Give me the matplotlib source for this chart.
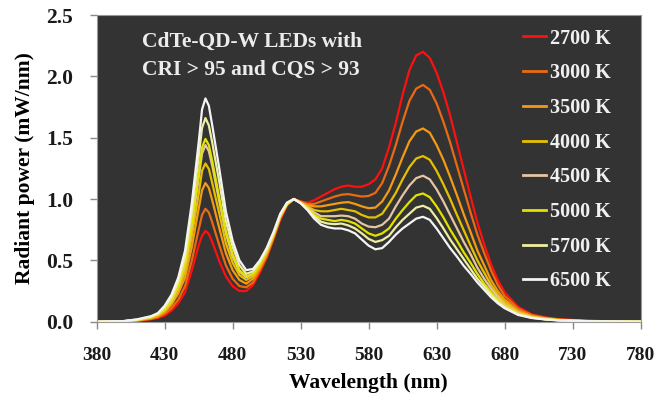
import matplotlib
matplotlib.use("Agg")
import matplotlib.pyplot as plt

plt.rcParams['font.family'] = ['Liberation Serif', 'DejaVu Serif']
plt.rcParams['font.weight'] = 'bold'

# wavelength grid (nm) and spectra (mW/nm)
wl = [380, 400, 410, 420, 425, 430, 435, 440, 445, 450, 455, 457.5, 460, 462.5, 465, 470, 475, 480,
      485, 490, 495, 500, 505, 510, 515, 520, 525, 530, 535, 540, 545, 550, 555, 560,
      565, 570, 575, 580, 585, 590, 595, 600, 605, 610, 615, 620, 625, 630, 635, 640,
      645, 650, 655, 660, 665, 670, 675, 680, 690, 700, 710, 720, 740, 760, 780]

k2700 = [0, 0.002, 0.007, 0.02, 0.03, 0.05, 0.09, 0.15, 0.24, 0.42, 0.62, 0.70, 0.74, 0.715, 0.65, 0.50, 0.37, 0.29,
         0.25, 0.25, 0.30, 0.40, 0.52, 0.67, 0.83, 0.95, 1.0, 0.98, 0.97, 0.99, 1.02, 1.05, 1.08, 1.10,
         1.11, 1.10, 1.10, 1.12, 1.16, 1.25, 1.42, 1.62, 1.85, 2.05, 2.17, 2.20, 2.15, 2.03, 1.87, 1.68,
         1.46, 1.24, 1.02, 0.81, 0.63, 0.47, 0.34, 0.24, 0.12, 0.06, 0.035, 0.02, 0.008, 0.003, 0]
k3000 = [0, 0.003, 0.009, 0.023, 0.037, 0.064, 0.11, 0.18, 0.29, 0.50, 0.75, 0.87, 0.92, 0.89, 0.81, 0.63, 0.46, 0.35,
         0.29, 0.28, 0.32, 0.42, 0.53, 0.68, 0.84, 0.95, 1.0, 0.98, 0.96, 0.96, 0.98, 1.00, 1.02, 1.035,
         1.04, 1.03, 1.02, 1.025, 1.05, 1.13, 1.27, 1.44, 1.63, 1.80, 1.90, 1.93, 1.89, 1.78, 1.63, 1.46,
         1.27, 1.08, 0.89, 0.71, 0.56, 0.42, 0.30, 0.21, 0.107, 0.054, 0.032, 0.018, 0.007, 0.003, 0]
k3500 = [0, 0.003, 0.011, 0.028, 0.045, 0.08, 0.14, 0.23, 0.36, 0.61, 0.92, 1.07, 1.13, 1.09, 0.99, 0.77, 0.56, 0.42,
         0.34, 0.31, 0.35, 0.44, 0.55, 0.69, 0.85, 0.96, 1.0, 0.97, 0.95, 0.94, 0.94, 0.95, 0.96, 0.97,
         0.975, 0.96, 0.94, 0.925, 0.93, 0.98, 1.07, 1.20, 1.34, 1.47, 1.55, 1.575, 1.54, 1.44, 1.32, 1.18,
         1.03, 0.875, 0.73, 0.58, 0.46, 0.34, 0.25, 0.18, 0.09, 0.046, 0.027, 0.015, 0.006, 0.002, 0]
k4000 = [0, 0.004, 0.013, 0.032, 0.052, 0.09, 0.15, 0.26, 0.41, 0.70, 1.04, 1.23, 1.29, 1.245, 1.13, 0.89, 0.64, 0.48,
         0.38, 0.34, 0.37, 0.45, 0.56, 0.70, 0.86, 0.96, 1.0, 0.97, 0.94, 0.91, 0.90, 0.90, 0.91, 0.92,
         0.91, 0.90, 0.87, 0.85, 0.85, 0.88, 0.96, 1.05, 1.16, 1.26, 1.33, 1.35, 1.32, 1.23, 1.12, 1.00,
         0.87, 0.745, 0.62, 0.50, 0.40, 0.30, 0.22, 0.16, 0.079, 0.041, 0.024, 0.014, 0.005, 0.002, 0]
k4500 = [0, 0.004, 0.014, 0.036, 0.058, 0.10, 0.17, 0.29, 0.46, 0.78, 1.17, 1.37, 1.44, 1.39, 1.27, 0.99, 0.72, 0.53,
         0.41, 0.36, 0.39, 0.47, 0.57, 0.71, 0.86, 0.96, 1.0, 0.97, 0.93, 0.89, 0.86, 0.86, 0.86, 0.865,
         0.86, 0.84, 0.80, 0.775, 0.77, 0.79, 0.84, 0.94, 1.03, 1.11, 1.17, 1.19, 1.16, 1.08, 0.98, 0.87,
         0.76, 0.65, 0.55, 0.44, 0.35, 0.27, 0.20, 0.14, 0.071, 0.038, 0.022, 0.012, 0.005, 0.002, 0]
k5000 = [0, 0.004, 0.015, 0.037, 0.06, 0.10, 0.18, 0.30, 0.48, 0.80, 1.21, 1.42, 1.49, 1.44, 1.31, 1.02, 0.74, 0.55,
         0.42, 0.37, 0.39, 0.47, 0.58, 0.71, 0.87, 0.96, 1.0, 0.97, 0.92, 0.87, 0.84, 0.83, 0.82, 0.83,
         0.82, 0.80, 0.76, 0.72, 0.70, 0.72, 0.76, 0.84, 0.91, 0.975, 1.03, 1.045, 1.015, 0.94, 0.85, 0.75,
         0.66, 0.565, 0.48, 0.39, 0.31, 0.24, 0.18, 0.128, 0.064, 0.034, 0.02, 0.011, 0.004, 0.002, 0]
k5700 = [0, 0.005, 0.017, 0.042, 0.066, 0.12, 0.20, 0.33, 0.53, 0.90, 1.34, 1.58, 1.66, 1.60, 1.46, 1.15, 0.82, 0.61,
         0.46, 0.39, 0.41, 0.49, 0.59, 0.72, 0.87, 0.97, 1.0, 0.967, 0.917, 0.857, 0.815, 0.80, 0.795, 0.80,
         0.785, 0.76, 0.72, 0.675, 0.65, 0.665, 0.70, 0.77, 0.83, 0.88, 0.93, 0.945, 0.92, 0.845, 0.76, 0.67,
         0.59, 0.51, 0.43, 0.35, 0.285, 0.22, 0.163, 0.119, 0.059, 0.032, 0.019, 0.011, 0.004, 0.002, 0]
k6500 = [0, 0.005, 0.02, 0.045, 0.07, 0.13, 0.22, 0.36, 0.58, 0.97, 1.46, 1.73, 1.82, 1.76, 1.60, 1.26, 0.90, 0.66,
         0.50, 0.42, 0.43, 0.50, 0.60, 0.73, 0.88, 0.97, 1.0, 0.965, 0.91, 0.84, 0.79, 0.77, 0.76, 0.76,
         0.745, 0.72, 0.67, 0.62, 0.59, 0.60, 0.65, 0.71, 0.76, 0.80, 0.84, 0.855, 0.83, 0.76, 0.68, 0.60,
         0.53, 0.455, 0.39, 0.32, 0.26, 0.20, 0.15, 0.11, 0.055, 0.03, 0.018, 0.01, 0.004, 0.002, 0]

labels = ["2700 K", "3000 K", "3500 K", "4000 K", "4500 K", "5000 K", "5700 K", "6500 K"]
spectra = [k2700, k3000, k3500, k4000, k4500, k5000, k5700, k6500]
colors = ["#ff1010", "#ea6a12", "#f49a14", "#e6c000", "#e6c6a0", "#e2e200", "#eeeea2", "#f4f4f4"]

xticks = [380, 430, 480, 530, 580, 630, 680, 730, 780]
yticks = [0.0, 0.5, 1.0, 1.5, 2.0, 2.5]

fig = plt.figure(figsize=(6.55, 3.97), dpi=100)
ax = fig.add_axes([0.1476, 0.1897, 0.8303, 0.7725])
ax.set_facecolor("#333333")

for y, c, lab in zip(spectra, colors, labels):
    ax.plot(wl, y, color=c, lw=1.6, label=lab)

ax.set_xlim(380, 780)
ax.set_ylim(0, 2.5)
ax.set_xticks(xticks)
ax.set_yticks(yticks)
ax.set_yticklabels(["%.1f" % v for v in yticks])
ax.tick_params(direction="out", length=5, width=1, color="#888888", labelcolor="#1a1a1a")
ax.tick_params(axis="x", pad=13, labelsize=14)
ax.tick_params(axis="y", pad=12, labelsize=15.5)
for s in ax.spines.values():
    s.set_color("#999999")

ax.set_xlabel("Wavelength (nm)", fontsize=15.5, fontweight="bold", labelpad=7)
ax.set_ylabel("Radiant power (mW/nm)", fontsize=15.5, fontweight="bold", labelpad=8)

ax.text(0.083, 0.944, "CdTe-QD-W LEDs with\nCRI > 95 and CQS > 93", transform=ax.transAxes,
        ha="left", va="top", color="#ececec", fontsize=15.5, fontweight="bold", linespacing=1.53)

leg = ax.legend(loc="upper left", bbox_to_anchor=(0.784, 0.956), frameon=False,
                fontsize=14.5, handlelength=1.15, handletextpad=0.2, labelspacing=0.73,
                borderpad=0, borderaxespad=0)
for t in leg.get_texts():
    t.set_color("#f0f0f0")
for h in leg.get_lines():
    h.set_linewidth(2)

fig.savefig("out.png", dpi=100, facecolor="white")
